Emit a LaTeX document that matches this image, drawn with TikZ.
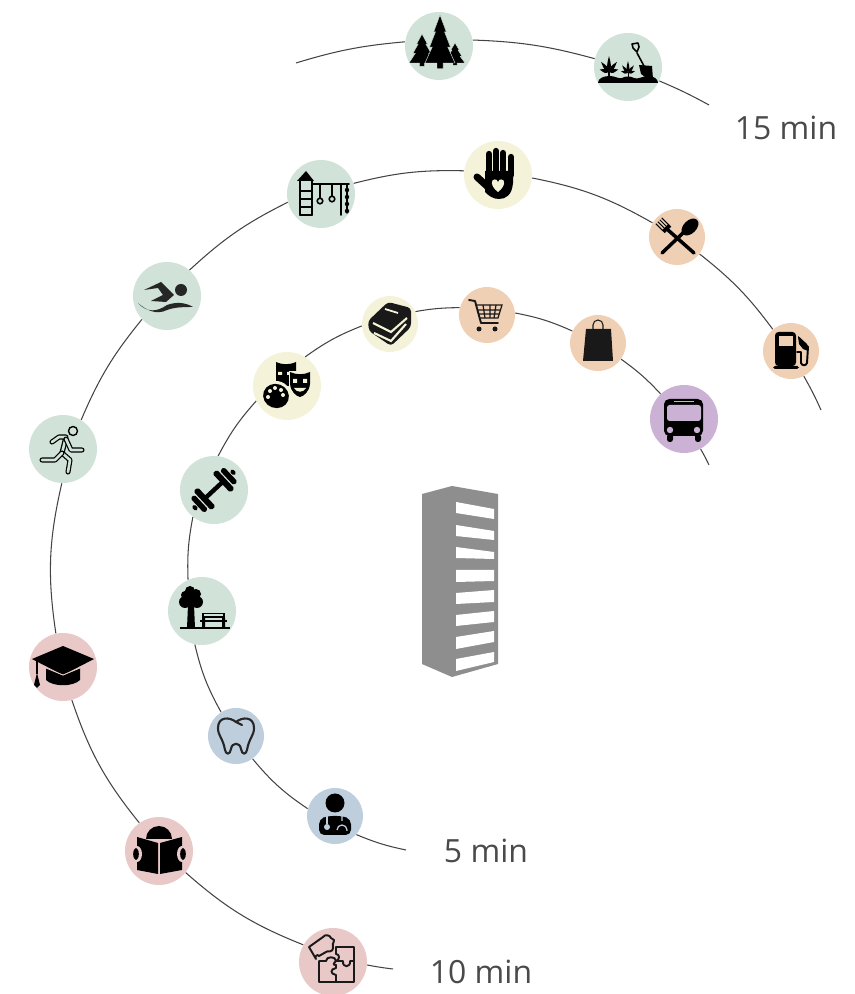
\documentclass[tikz,border=0pt]{standalone}
\usepackage{fontspec}
\setmainfont{Open Sans}
\definecolor{spotgreen}{HTML}{D1E2D8}
\definecolor{spotyellow}{HTML}{F4F3D9}
\definecolor{spotorange}{HTML}{F0D0B5}
\definecolor{spotpurple}{HTML}{CBB2D5}
\definecolor{spotpink}{HTML}{E8C9C8}
\definecolor{spotblue}{HTML}{BFCEDD}
\definecolor{towergray}{HTML}{8F8E8E}
\definecolor{labelgray}{HTML}{4A4A4A}
\definecolor{ringgray}{HTML}{444444}
\tikzset{
	bigspot/.style={circle,minimum size=1.36cm,inner sep=0pt,fill=#1},
	smallspot/.style={circle,minimum size=1.12cm,inner sep=0pt,fill=#1},
	ringline/.style={draw=ringgray,line width=0.6pt},
	minlabel/.style={text=labelgray,font=\fontsize{18.2}{20}\selectfont},
	iconfill/.style={fill=black,draw=none},
	iconline/.style={draw=black,line width=1.1pt,line cap=round,line join=round},
	hollowline/.style={draw=black,line width=0.7pt,line cap=round,line join=round,double=spotgreen,double distance=1.5pt},
	fir/.pic={
		\path[iconfill,draw=spotgreen,line width=0.25pt] (0,1) -- (.42,.65) -- (.3,.65) -- (.7,.33) -- (.52,.33) -- (1,0) -- (.2,0) -- (.2,-.12) -- (-.2,-.12) -- (-.2,0) -- (-1,0) -- (-.52,.33) -- (-.7,.33) -- (-.3,.65) -- (-.42,.65) -- cycle;
	},
	leafplant/.pic={
		\foreach \a/\l in {90/1,52/.8,128/.8,15/.6,165/.6}
			\fill[black,rotate=\a] (0,0) .. controls (.35*\l,.16) .. (\l,0) .. controls (.35*\l,-.16) .. (0,0);
		\fill[black] (-.04,-.4) rectangle (.04,0);
	}
}
\begin{document}
\begin{tikzpicture}[x=0.02cm,y=0.02cm]
	\useasboundingbox (0,0) rectangle (855,994);

	% 15 min ring
	\coordinate (startc) at (296,931);
	\coordinate (endc) at (709,889);
	\node[bigspot=spotgreen] (forest) at (439,948) {};
	\node[bigspot=spotgreen] (garden) at (628,927) {};
	\node[minlabel] (labelc) at (786,866) {15 min};

	% 10 min ring
	\coordinate (startb) at (393,25);
	\coordinate (endb) at (821,584);
	\node[bigspot=spotpink] (puzzle) at (333,32) {};
	\node[bigspot=spotpink] (reader) at (159,143) {};
	\node[bigspot=spotpink] (gradcap) at (63,327) {};
	\node[bigspot=spotgreen] (runner) at (63,545) {};
	\node[bigspot=spotgreen] (swimmer) at (167,698) {};
	\node[bigspot=spotgreen] (playground) at (321,800) {};
	\node[bigspot=spotyellow] (hand) at (498,819) {};
	\node[smallspot=spotorange] (dining) at (677,757) {};
	\node[smallspot=spotorange] (fuel) at (791,643) {};
	\node[minlabel] (labelb) at (481,22) {10 min};

	% 5 min ring
	\coordinate (starta) at (406,144);
	\coordinate (enda) at (709,529);
	\node[smallspot=spotblue] (doctor) at (335,178) {};
	\node[smallspot=spotblue] (tooth) at (236,258) {};
	\node[bigspot=spotgreen] (park) at (202,383) {};
	\node[bigspot=spotgreen] (dumbbell) at (214,504) {};
	\node[bigspot=spotyellow] (masks) at (287,608) {};
	\node[smallspot=spotyellow] (books) at (390,670) {};
	\node[smallspot=spotorange] (cart) at (487,679) {};
	\node[smallspot=spotorange] (bag) at (598,651) {};
	\node[bigspot=spotpurple] (bus) at (684,575) {};
	\node[minlabel] (labela) at (486,143) {5 min};

	% Ring segments
	\foreach \a/\b/\c in {startc/forest.173/5.9,forest.10/garden.166/6.6,garden.-24/endc/2.8,
		startb/puzzle.-5/1.9,puzzle.150/reader.-39/9.8,reader.125/gradcap.-75/10.1,gradcap.102/runner.-92/10.7,runner.58/swimmer.223/8,swimmer.49/playground.194/8.1,playground.18/hand.173/7.8,hand.-5/dining.150/9.2,dining.-37/fuel.130/7.6,fuel.-63/endb/2.6,
		starta/doctor.-41/5.4,doctor.165/tooth.-54/8.1,tooth.122/park.258/7.8,park.114/dumbbell.232/6.4,dumbbell.83/masks.206/7,masks.58/books.184/7,books.26/cart.165/4.7,cart.4/bag.155/6.6,bag.-35/bus.133/5.6,bus.-61/enda/2}
		\draw[ringline] (\a) to[bend left=\c] (\b);

	% Tower
	\fill[towergray] (422,500) -- (452,508) -- (498,500) -- (498,330) -- (452,317) -- (422,330) -- cycle;
	\foreach \p/\q/\r/\s in {492/481/485/475,469/458/463/454,447/436/442/435,424/412/424/413,401/390/404/392,379/368/383/372,357/345/363/352,335/323/342/332}
		\fill[white] (456,\p) -- (494,\r) -- (494,\s) -- (456,\q) -- cycle;

	% Forest
	\begin{scope}[shift={(forest)}]
		\pic[xscale=13,yscale=29] at (-17,-17) {fir};
		\pic[xscale=10,yscale=20] at (16,-17) {fir};
		\pic[xscale=15,yscale=48] at (1,-17) {fir};
	\end{scope}

	% Garden
	\begin{scope}[shift={(garden)}]
		\pic[scale=16] at (-19,-5) {leafplant};
		\pic[scale=12] at (0,-6) {leafplant};
		\fill[black] (-30,-16) .. controls (-30,-11) and (-24,-9) .. (-18,-9) .. controls (-13,-9) and (-10,-12) .. (-6,-11) .. controls (-3,-9) and (3,-9) .. (6,-11) .. controls (10,-13) and (14,-9) .. (20,-9) .. controls (26,-9) and (30,-12) .. (30,-16) -- cycle;
		\draw[iconline,line width=0.9pt] (9,14) -- (16,1);
		\draw[iconline,line width=0.9pt] (4,23) -- (10,24) -- (11,20) -- (9,15) -- (5,19) -- cycle;
		\fill[black] (11,2) -- (24,1) -- (25,-12) -- (20,-12) -- (13,-7) -- cycle;
	\end{scope}

	% Playground
	\begin{scope}[shift={(playground)}]
		\fill[black] (-15,23) -- (-7,13) -- (-24,13) -- cycle;
		\draw[iconline] (-21,13) -- (-21,-21) (-9,13) -- (-9,-21);
		\foreach \y in {3,-5,-13,-21}
			\draw[iconline] (-21,\y) -- (-9,\y);
		\draw[iconline] (-9,10) -- (28,10);
		\draw[iconline,line width=0.8pt] (-1,10) -- (-1,-4) (11,10) -- (11,-2);
		\draw[iconline,line width=0.9pt] (-1,-7) circle (2.8) (11,-5) circle (2.8);
		\draw[iconline] (20,10) -- (20,-21);
		\draw[iconline,line width=0.8pt] (26,10) -- (26,-19);
		\foreach \y in {4,-3,-10,-17}
			\fill[black] (26,\y) circle (2.2);
	\end{scope}

	% Hand
	\begin{scope}[shift={(hand)}]
		\foreach \x/\y in {-9/21,-2/24,5/22,13/18}
			\draw[line width=3.6pt,line cap=round] (\x,0) -- (\x,\y);
		\fill[black] (-13,4) -- (15,4) -- (15,-8) .. controls (14,-20) and (8,-24) .. (1,-24) .. controls (-5,-24) and (-9,-21) .. (-13,-17) -- cycle;
		\draw[line width=4pt,line cap=round] (-21,-2) -- (-10,-12);
		\fill[spotyellow] (0,-17) .. controls (-8,-11) and (-7,-4) .. (-3.5,-4.5) .. controls (-1.5,-4.5) .. (0,-7) .. controls (1.5,-4.5) .. (3.5,-4.5) .. controls (7,-4) and (8,-11) .. (0,-17);
	\end{scope}

	% Dining
	\begin{scope}[shift={(dining)}]
		\draw[line width=2pt,line cap=round] (-15,-16) -- (7,5) (17,-16) -- (-9,7);
		\fill[black,rotate around={45:(13,10)}] (13,10) ellipse (10 and 6.5);
		\begin{scope}[shift={(-9,7)},rotate=135]
			\fill[black] (0,-4.6) rectangle (4,4.6);
			\foreach \t in {-4.2,-1.4,1.4,4.2}
				\draw[line width=0.6pt] (3,\t) -- (13,\t);
		\end{scope}
	\end{scope}

	% Fuel
	\begin{scope}[shift={(fuel)}]
		\fill[black,rounded corners=2pt] (-16,-15) -- (-16,19) -- (5,19) -- (5,-15) -- cycle;
		\fill[spotorange] (-12,5) rectangle (2,15);
		\fill[black,rounded corners=1pt] (-18,-18) rectangle (8,-15);
		\draw[iconline,line width=1.1pt] (6,-1) -- (10,-1) -- (10,-12) .. controls (11,-15) and (15,-15) .. (16,-12) -- (17,4) -- (8,13);
		\fill[black] (7,15) -- (16,7) -- (17,0) -- (12,2) -- (8,7) -- cycle;
	\end{scope}

	% Bus
	\begin{scope}[shift={(bus)}]
		\fill[black,rounded corners=3pt] (-20,-17) rectangle (19,20);
		\fill[spotpurple,rounded corners=1.5pt] (-17,-2) rectangle (17,14);
		\draw[spotpurple,line width=0.7pt] (-10,17.5) -- (10,17.5);
		\fill[spotpurple] (-14,-11) circle (3.2) (13,-11) circle (3.2);
		\fill[black,rounded corners=1.5pt] (-17,-23) rectangle (-11,-15);
		\fill[black,rounded corners=1.5pt] (11,-23) rectangle (17,-15);
	\end{scope}

	% Bag
	\begin{scope}[shift={(bag)}]
		\fill[black!90] (-12,14) -- (13,14) -- (15,-18) -- (-15,-18) -- cycle;
		\draw[black!90,line width=0.6pt] (-5,14) -- (-5,18) arc (180:0:5) -- (5,14);
	\end{scope}

	% Cart
	\begin{scope}[shift={(cart)}]
		\draw[iconline,black!90] (-18,15) -- (-12,14) -- (-6,-8) -- (11,-8);
		\draw[black!90,line width=0.7pt] (-11,10) -- (15,10) -- (11,-3) -- (-8,-3);
		\draw[black!90,line width=0.7pt] (-10,5) -- (13.5,5) (-9,1) -- (12,1) (-4,10) -- (-2,-3) (3,10) -- (3,-3) (9,10) -- (7,-3);
		\fill[black!90] (-8,-14) circle (2.5) (8,-14) circle (2.5);
	\end{scope}

	% Books
	\begin{scope}[shift={(books)}]
		\fill[black!90,rounded corners=2pt] (-22,3) -- (-2,22) -- (21,16) -- (21,-3) -- (1,-22) -- (-21,-7) -- cycle;
		\draw[spotyellow,line width=1.2pt] (-17,1) -- (1,-8) -- (17,6);
		\draw[spotyellow,line width=1.2pt] (-16,-9) -- (1,-17) -- (16,0);
		\draw[spotyellow,line width=1pt] (-5,15) -- (8,11);
	\end{scope}

	% Masks and palette
	\begin{scope}[shift={(masks)}]
		\fill[black] (-11,24) .. controls (-4,21) and (2,21) .. (9,24) -- (9,6) -- (2,10) -- (2,0) -- (-11,0) -- cycle;
		\fill[spotyellow] (-9,14) rectangle (-5,11) (0,14) rectangle (4,11);
		\fill[spotyellow] (2,15) -- (24,15) -- (24,-12) -- (2,-12) -- cycle;
		\fill[black] (3,14) .. controls (9,11) and (17,11) .. (23,14) -- (23,2) .. controls (22,-6) and (17,-10) .. (13,-11) .. controls (9,-10) and (4,-6) .. (3,2) -- cycle;
		\fill[spotyellow] (6,7) rectangle (10,3) (16,7) rectangle (20,3);
		\fill[spotyellow] (7,-2) .. controls (10,-7) and (16,-7) .. (19,-2) -- cycle;
		\fill[spotyellow] (-11,-10) circle (15);
		\fill[black,rotate around={-20:(-11,-10)}] (-11,-10) ellipse (13 and 12);
		\fill[spotyellow] (-17,-5) circle (2) (-12,-2) circle (2) (-6,-4) circle (2) (-19,-11) circle (2) (-4,-9) circle (2);
	\end{scope}

	% Dumbbell
	\begin{scope}[shift={(dumbbell)},rotate=43]
		\fill[black] (-14,-2.2) rectangle (14,2.2);
		\foreach \s in {1,-1} {
			\fill[black,rounded corners=1pt] (\s*10,-13) rectangle (\s*16,13);
			\fill[black,rounded corners=1pt] (\s*17.5,-10) rectangle (\s*23,10);
			\fill[black,rounded corners=1pt] (\s*24,-3) rectangle (\s*28,3);
		}
	\end{scope}

	% Swimmer
	\begin{scope}[shift={(swimmer)}]
		\fill[black!85] (14,6) circle (6);
		\fill[black!85] (-23,6) -- (-6,14) -- (7,1) -- (-1,-6) -- (-16,-5) -- (-4,1) -- (-9,8) -- cycle;
		\fill[black!85] (-29,-7) .. controls (-20,-17) and (-10,-16) .. (0,-9) .. controls (8,-6) and (18,-6) .. (26,-11) .. controls (18,-11) and (8,-11) .. (0,-14) .. controls (-10,-19) and (-20,-15) .. (-29,-7) -- cycle;
	\end{scope}

	% Runner
	\begin{scope}[shift={(runner)}]
		\draw[iconline,line width=0.8pt] (10,18) circle (4.5);
		\draw[hollowline] (-11,7) -- (-4,12) -- (3,12) -- (-1,-4) -- (7,-11) -- (5,-23);
		\draw[hollowline] (3,10) -- (8,-1) -- (19,-1);
		\draw[hollowline] (-1,-4) -- (-8,-11) -- (-21,-11);
	\end{scope}

	% Graduation cap
	\begin{scope}[shift={(gradcap)}]
		\fill[black] (0,21) -- (31,8) -- (0,-8) -- (-31,8) -- cycle;
		\fill[black] (-17,-1) -- (0,-8.5) -- (17,-1) -- (17,-13) .. controls (10,-20) and (-10,-20) .. (-17,-13) -- cycle;
		\draw[spotpink,line width=0.5pt] (-17,-1) -- (0,-8) -- (17,-1);
		\draw[black,line width=0.7pt] (-26,6) -- (-26,-7);
		\fill[black] (-26,-6) -- (-23,-18) -- (-26,-21) -- (-29,-18) -- cycle;
	\end{scope}

	% Park
	\begin{scope}[shift={(park)}]
		\fill[black] (-11,13) circle (9) (-17,9) circle (6) (-5,9) circle (6) (-12,20) circle (5) (-6,17) circle (5) (-17,16) circle (4);
		\fill[black] (-14,6) -- (-8,6) -- (-7,-17) -- (-15,-17) -- cycle;
		\draw[black,line width=0.8pt] (-22,-17) -- (28,-17);
		\fill[black] (0,-2) rectangle (23,-7);
		\fill[spotgreen] (2,-3.5) rectangle (21,-5);
		\fill[black] (-2,-9.5) rectangle (25,-11.5);
		\fill[black] (0,-17) rectangle (3,-7) (20,-17) rectangle (23,-7);
	\end{scope}

	% Tooth
	\begin{scope}[shift={(tooth)}]
		\draw[iconline,draw=black!85,line width=1.2pt] (0,14) .. controls (-6,19) and (-18,20) .. (-18,8) .. controls (-18,0) and (-13,-2) .. (-11,-14) .. controls (-10,-19) and (-6,-19) .. (-5,-13) .. controls (-4,-6) and (4,-6) .. (5,-13) .. controls (6,-19) and (10,-19) .. (11,-14) .. controls (13,-2) and (18,0) .. (18,8) .. controls (18,20) and (6,19) .. (0,14) -- cycle;
		\draw[iconline,draw=black!85,line width=1.2pt] (0,14) -- (6,11);
	\end{scope}

	% Reader
	\begin{scope}[shift={(reader)}]
		\fill[black] (-13,12) arc (180:0:13) -- cycle;
		\fill[black] (-22,14) -- (-1,8) -- (-1,-23) -- (-22,-19) -- cycle;
		\fill[black] (1,8) -- (23,14) -- (23,-19) -- (1,-23) -- cycle;
		\fill[spotpink] (-22,-3) ellipse (5 and 8) (23,-3) ellipse (5 and 8);
		\fill[black] (-23,-3) ellipse (2.8 and 6) (24,-3) ellipse (2.8 and 6);
	\end{scope}

	% Puzzle
	\begin{scope}[shift={(puzzle)}]
		\draw[iconline,draw=black!90] (-24,15) -- (-10,25) .. controls (-8,28) and (-3,27) .. (-2,24) -- (1,22) .. controls (1,18) and (-2,18) .. (0,15) .. controls (0,8) and (-6,12) .. (-7,10) -- (-14,6) .. controls (-16,9) and (-19,4) .. (-17,3) -- cycle;
		\draw[iconline,draw=black!90] (3,15) -- (21,15) -- (21,-20) -- (-14,-20) -- (-14,1) -- (-7,1) .. controls (-7,6) and (3,6) .. (3,1) .. controls (1,-1) and (-1,-3) .. (3,-3);
		\draw[iconline,draw=black!90] (3,15) -- (3,8) .. controls (7,8) and (7,2) .. (3,1);
		\draw[iconline,draw=black!90] (3,1) -- (10,1) .. controls (9,-6) and (18,-6) .. (17,1) -- (21,1);
		\draw[iconline,draw=black!90] (3,-3) -- (3,-6) .. controls (-3,-7) and (-3,-12) .. (3,-13) -- (3,-20);
	\end{scope}

	% Doctor
	\begin{scope}[shift={(doctor)}]
		\fill[black] (0,13) circle (9.5);
		\fill[black,rounded corners=3pt] (-16,-19) -- (-16,-3) -- (-7,0) -- (7,0) -- (16,-3) -- (16,-19) -- cycle;
		\draw[spotblue,line width=0.7pt] (-8,0) -- (-8,-8);
		\fill[spotblue] (-8,-11) circle (3);
		\draw[spotblue,line width=0.7pt] (7,0) -- (7,-5) (2,-14) arc (180:0:5) -- (12,-15);
	\end{scope}
\end{tikzpicture}
\end{document}
